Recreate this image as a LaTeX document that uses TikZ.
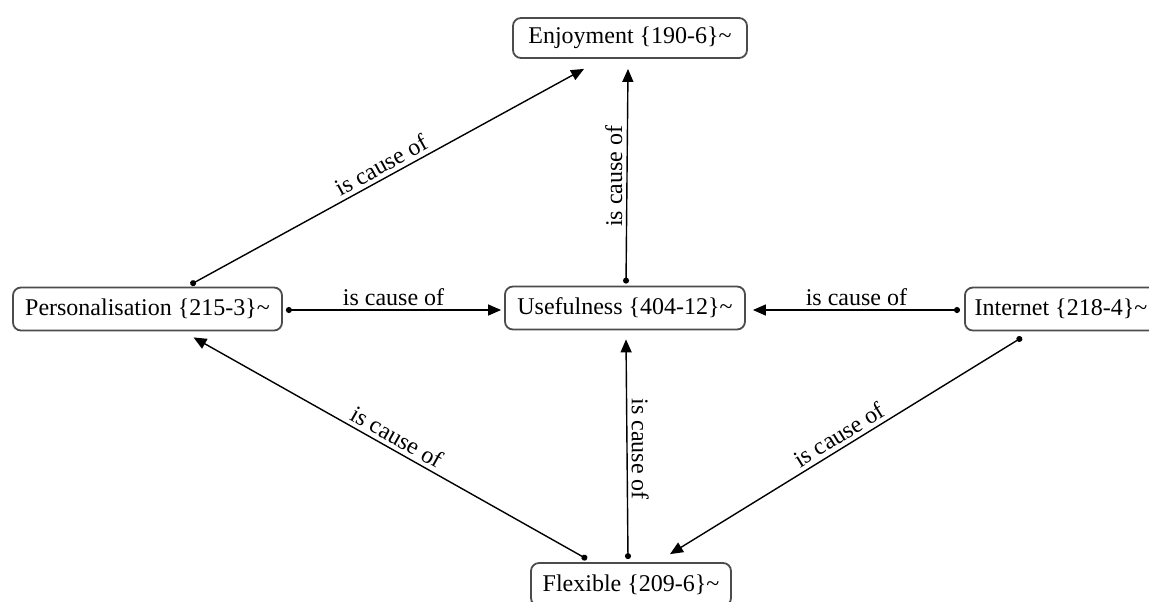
\documentclass[tikz,border=0pt]{standalone}
\usepackage{fontspec}
\setmainfont{Liberation Serif}
\usetikzlibrary{arrows.meta,calc}

\begin{document}
\begin{tikzpicture}[x=0.5pt,y=-0.5pt,
    concept/.style={draw=black!70,line width=0.9pt,rounded corners=4pt,fill=white,
      minimum height=21.5pt,inner xsep=3pt,font=\fontsize{12}{14}\selectfont},
    cause/.style={line width=0.7pt,{Circle[length=3pt]}-{Triangle[length=6.5pt,width=5.5pt]}},
    lbl/.style={font=\fontsize{12}{14}\selectfont,inner sep=2pt}]
  \useasboundingbox (0,0) rectangle (1149,601);
  % concepts
  \node[concept,minimum width=117pt,minimum height=20pt] (enjoy) at (630,38) {Enjoyment \{190-6\}\textasciitilde};
  \node[concept,minimum width=134.5pt] (pers) at (147.5,309) {Personalisation \{215-3\}\textasciitilde};
  \node[concept,minimum width=120pt] (use) at (625,308) {Usefulness \{404-12\}\textasciitilde};
  \node[concept,minimum width=96pt,anchor=west] (inter) at (964,309) {Internet \{218-4\}\textasciitilde};
  \node[concept,minimum width=100pt] (flex) at (631,584.5) {Flexible \{209-6\}\textasciitilde};
  % causes
  \draw[cause] ($(pers.north)+(43,-2)$) -- ($(enjoy.south)+(-46,10)$)
    node[lbl,midway,sloped,above] {is cause of};
  \draw[cause] ($(use.north)+(1,-2)$) -- ($(enjoy.south)+(-2,10)$)
    node[lbl,midway,rotate=90,anchor=south] {is cause of};
  \draw[cause] ($(pers.east)+(3,1)$) -- ($(use.west)+(-3,2)$)
    node[lbl,midway,above] {is cause of};
  \draw[cause] ($(inter.west)+(-4,1)$) -- ($(use.east)+(7,2)$)
    node[lbl,midway,above] {is cause of};
  \draw[cause] ($(flex.north)+(-44,-3)$) -- ($(pers.south)+(46,6)$)
    node[lbl,midway,sloped,above] {is cause of};
  \draw[cause] ($(flex.north)+(-3,-3)$) -- ($(use.south)+(1,9)$)
    node[lbl,midway,rotate=-90,anchor=south] {is cause of};
  \draw[cause] ($(inter.south)+(-39,6)$) -- ($(flex.north)+(39,-8)$)
    node[lbl,midway,sloped,above] {is cause of};
\end{tikzpicture}
\end{document}
